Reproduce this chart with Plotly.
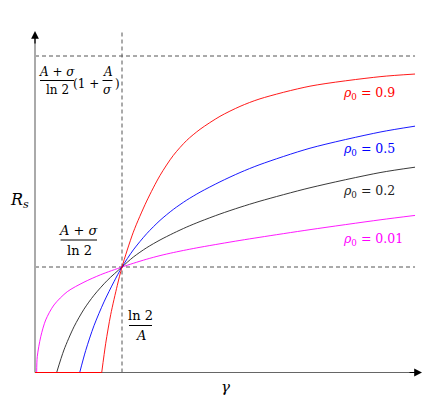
import plotly.graph_objects as go

# gamma in units of ln2/A, R_s in units of (A+sigma)/ln2
red_x = [0.767, 0.813, 0.870, 0.946, 1.0, 1.130, 1.284, 1.437, 1.590, 1.744, 1.897, 2.126, 2.356, 2.586, 3.161, 3.966, 4.368]
red_y = [0.0, 0.277, 0.548, 0.826, 1.0, 1.330, 1.625, 1.868, 2.058, 2.200, 2.305, 2.428, 2.522, 2.594, 2.714, 2.804, 2.829]

blue_x = [0.514, 0.583, 0.678, 0.793, 0.908, 1.0, 1.130, 1.284, 1.437, 1.590, 1.744, 1.897, 2.126, 2.356, 2.586, 3.161, 3.966, 4.368]
blue_y = [0.0, 0.209, 0.444, 0.669, 0.861, 1.0, 1.162, 1.316, 1.442, 1.546, 1.634, 1.709, 1.807, 1.895, 1.971, 2.126, 2.279, 2.335]

black_x = [0.249, 0.333, 0.448, 0.563, 0.678, 0.831, 1.0, 1.130, 1.284, 1.437, 1.590, 1.744, 1.897, 2.126, 2.356, 2.586, 3.161, 3.966, 4.368]
black_y = [0.0, 0.214, 0.433, 0.600, 0.732, 0.873, 1.0, 1.094, 1.183, 1.256, 1.320, 1.379, 1.431, 1.502, 1.566, 1.624, 1.751, 1.895, 1.946]

magenta_x = [0.019, 0.026, 0.066, 0.123, 0.218, 0.371, 0.563, 0.755, 1.0, 1.130, 1.284, 1.437, 1.590, 1.744, 1.897, 2.126, 2.356, 2.586, 3.161, 3.966, 4.368]
magenta_y = [0.0, 0.150, 0.339, 0.498, 0.640, 0.766, 0.856, 0.927, 1.0, 1.035, 1.074, 1.108, 1.137, 1.163, 1.187, 1.220, 1.252, 1.282, 1.354, 1.447, 1.489]

rho_labels = ["0.01", "0.2", "0.5", "0.9"]
colors = ["#ff00ff", "#222222", "#0000ff", "#ff0000"]
label_y = [1.265, 1.720, 2.118, 2.649]

x_cross = 1.0
y_cross = 1.0
y_top = 3.0
x_end = 4.368

FONT = "DejaVu Serif"


# pixel (as seen in the page) -> data units
def xd(px):
    return (px - 35) / 87


def yd(py):
    return (372.5 - py) / 105.5


fig = go.Figure()

# dashed guide lines
for xs, ys in [([0, x_end], [y_top, y_top]), ([0, x_end], [y_cross, y_cross]), ([x_cross, x_cross], [0, yd(32)])]:
    fig.add_trace(go.Scatter(x=xs, y=ys, mode="lines", line=dict(color="#555555", width=1, dash="4px,3px"),
                             hoverinfo="skip"))

# axes
fig.add_trace(go.Scatter(x=[0, 0], y=[0, yd(36)], mode="lines", line=dict(color="#aaaaaa", width=2), hoverinfo="skip"))
fig.add_trace(go.Scatter(x=[0, xd(417)], y=[0, 0], mode="lines", line=dict(color="#666666", width=1), hoverinfo="skip"))

series = [(magenta_x, magenta_y), (black_x, black_y), (blue_x, blue_y), (red_x, red_y)]
for (xs, ys), c, lab, ly in zip(series, colors, rho_labels, label_y):
    fig.add_trace(go.Scatter(x=[0, xs[0]], y=[0, 0], mode="lines", line=dict(color=c, width=1), hoverinfo="skip"))
    fig.add_trace(go.Scatter(x=xs, y=ys, mode="lines", line=dict(color=c, width=0.9, shape="spline", smoothing=0.8),
                             name="ρ0 = " + lab))
    fig.add_annotation(x=xd(341), y=ly, text="<i>ρ</i><sub>0</sub> = " + lab, showarrow=False,
                       xanchor="left", yanchor="middle", font=dict(family=FONT, size=12.5, color=c))

# arrow heads
fig.add_annotation(x=0, y=yd(31), ax=0, ay=yd(45), xref="x", yref="y", axref="x", ayref="y", text="",
                   showarrow=True, arrowhead=2, arrowsize=1.3, arrowwidth=1.2, arrowcolor="black")
fig.add_annotation(x=xd(422), y=0, ax=xd(408), ay=0, xref="x", yref="y", axref="x", ayref="y", text="",
                   showarrow=True, arrowhead=2, arrowsize=1.3, arrowwidth=1.2, arrowcolor="black")


def text(xc, yc, s, size=14):
    fig.add_annotation(x=xc, y=yc, text=s, showarrow=False, xanchor="center", yanchor="middle",
                       font=dict(family=FONT, size=size, color="black"))


def frac(xc, yc, num, den, x0, x1, size=14, gap=10):
    text(xc, yd(yc - gap), num, size)
    text(xc, yd(yc + gap), den, size)
    fig.add_shape(type="line", x0=x0, x1=x1, y0=yd(yc), y1=yd(yc), line=dict(color="black", width=1))


# top asymptote label
frac(xd(57), 80.5, "<i>A</i> + <i>σ</i>", "ln 2", xd(40), xd(74), size=12, gap=9)
text(xd(85.5), yd(84), "(1 +", 12)
frac(xd(107.5), 80.5, "<i>A</i>", "<i>σ</i>", xd(102.5), xd(112.5), size=12, gap=9)
text(xd(117), yd(84), ")", 12)

# crossing labels
frac(xd(79), 240, "<i>A</i> + <i>σ</i>", "ln 2", xd(60.5), xd(97), size=13)
frac(xd(140.5), 325.5, "ln 2", "<i>A</i>", xd(129), xd(152), size=13)

text(xd(19), yd(200), "<i>R</i><sub><i>s</i></sub>", 16)
text(xd(225), yd(387), "<i>γ</i>", 15)

# the page adds an 8px body margin, so the figure itself starts at (8, 8)
fig.update_layout(width=439, height=401, margin=dict(l=0, r=0, t=0, b=0),
                  plot_bgcolor="white", paper_bgcolor="white", showlegend=False,
                  xaxis=dict(range=[xd(8), xd(447)], visible=False),
                  yaxis=dict(range=[yd(409), yd(8)], visible=False))
fig.write_html("out.html")
